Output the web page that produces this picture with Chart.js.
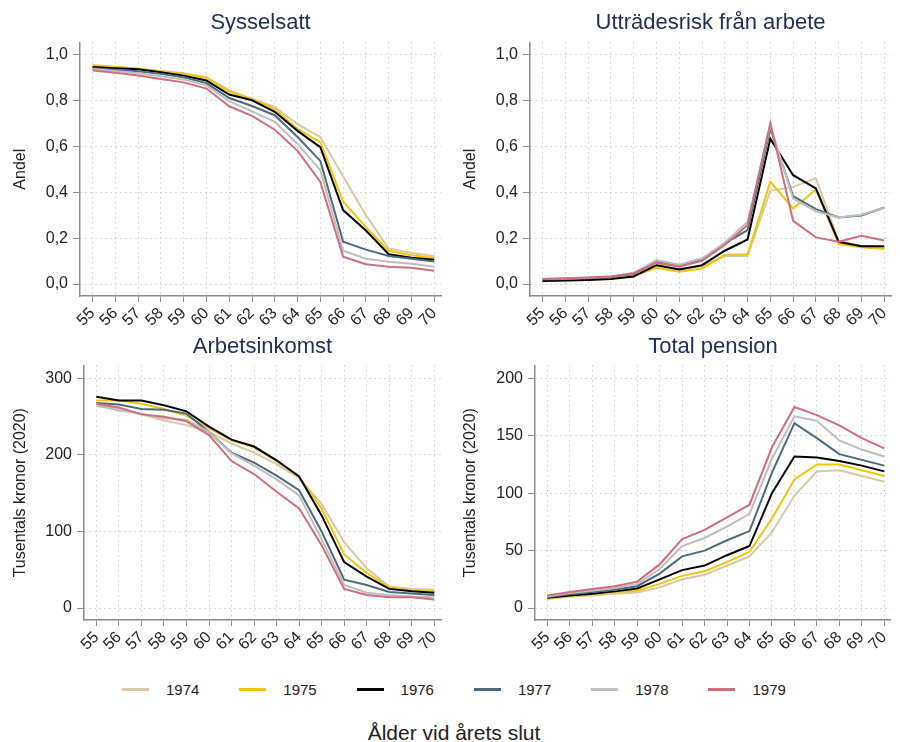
<!DOCTYPE html>
<html>
<head>
<meta charset="utf-8">
<script src="https://cdn.jsdelivr.net/npm/chart.js@4.4.1/dist/chart.umd.min.js"></script>
<style>
  body { margin: 0; background: #fff; font-family: "Liberation Sans", Arial, sans-serif; }
  #wrap { position: relative; width: 900px; height: 742px; overflow: hidden; }
  #wrap canvas { position: absolute; }
  #legend { position: absolute; left: 122px; top: 680px; height: 18px; display: flex; }
  .item { width: 117.3px; display: flex; align-items: center; font-size: 15px; color: #222; }
  .swatch { width: 27px; height: 3px; margin-right: 17px; }
  #xtitle { position: absolute; left: 4px; width: 900px; top: 721px; text-align: center; font-size: 21px; color: #222; }
</style>
</head>
<body>
<div id="wrap">
  <canvas id="c1" width="450" height="330" style="left:0;top:0"></canvas>
  <canvas id="c2" width="450" height="330" style="left:450px;top:0"></canvas>
  <canvas id="c3" width="450" height="330" style="left:0;top:330px"></canvas>
  <canvas id="c4" width="450" height="330" style="left:450px;top:330px"></canvas>
  <div id="legend"></div>
  <div id="xtitle">Ålder vid årets slut</div>
</div>
<script>
// Data
const ages = [55, 56, 57, 58, 59, 60, 61, 62, 63, 64, 65, 66, 67, 68, 69, 70];
const cohorts = ["1974", "1975", "1976", "1977", "1978", "1979"];
const cohortColors = ["#d5caa4", "#f2c40c", "#000000", "#4b6b7b", "#bebebe", "#d26e7c"];

const andelTicks = [0, 0.2, 0.4, 0.6, 0.8, 1.0];
const inkomstTicks = [0, 100, 200, 300];
const pensionTicks = [0, 50, 100, 150, 200];

// en rad per kohort (1974 ... 1979)
const sysselsatt = [
  [.952, .945, .938, .928, .918, .900, .843, .807, .771, .696, .640, .468, .300, .155, .135, .122],
  [.952, .945, .937, .925, .915, .897, .838, .805, .762, .675, .618, .360, .248, .145, .125, .113],
  [.945, .940, .935, .922, .907, .886, .825, .800, .750, .667, .596, .322, .233, .130, .115, .106],
  [.940, .933, .926, .915, .900, .875, .810, .775, .735, .640, .536, .184, .150, .122, .110, .098],
  [.936, .928, .918, .905, .890, .865, .796, .752, .706, .610, .496, .145, .110, .097, .088, .075],
  [.930, .920, .908, .893, .878, .851, .774, .732, .672, .580, .445, .119, .086, .075, .071, .058]
];

const uttradesrisk = [
  [.020, .021, .023, .028, .042, .085, .065, .078, .122, .122, .406, .423, .460, .185, .165, .160],
  [.015, .017, .020, .023, .035, .071, .054, .068, .126, .130, .445, .329, .412, .174, .160, .153],
  [.013, .015, .018, .022, .033, .082, .063, .082, .145, .194, .633, .474, .416, .184, .165, .165],
  [.020, .022, .025, .030, .045, .097, .080, .105, .177, .235, .677, .383, .326, .290, .298, .333],
  [.022, .024, .027, .033, .048, .104, .084, .112, .180, .271, .690, .372, .317, .290, .302, .333],
  [.022, .025, .028, .033, .047, .093, .075, .101, .170, .257, .701, .275, .203, .184, .210, .190]
];

const arbetsinkomst = [
  [264, 260, 253, 245, 239, 230, 215, 203, 188, 170, 136, 86, 52, 28, 25, 24],
  [271, 271, 267, 260, 251, 235, 219, 210, 192, 171, 130, 70, 46, 27, 23, 22],
  [276, 271, 271, 265, 257, 237, 220, 211, 193, 172, 121, 60, 41, 25, 22, 20],
  [268, 266, 260, 259, 254, 230, 203, 190, 173, 154, 100, 37, 30, 21, 19, 17],
  [265, 258, 254, 248, 246, 230, 202, 186, 168, 147, 90, 30, 20, 17, 15, 14],
  [267, 262, 253, 250, 244, 226, 192, 175, 152, 130, 82, 25, 17, 14, 14, 11]
];

const totalPension = [
  [8, 10, 11, 12.5, 13.5, 18, 25, 29, 37, 45, 66, 98, 119, 120, 115, 110],
  [8, 10.5, 12, 14, 15, 21, 28, 32, 40, 49, 78, 112, 125, 125, 120, 115],
  [9, 11, 12.5, 14.5, 17, 25, 33, 37, 46, 54, 100, 132, 131, 128, 124, 119],
  [9.5, 12, 14, 16, 19, 30, 45, 50, 59, 67, 118, 161, 148, 134, 129, 124],
  [10, 13, 15, 17.5, 21, 34, 54, 61, 71, 82, 130, 167, 163, 146, 138, 132],
  [11, 14, 16.5, 19, 23, 38, 60, 68, 79, 90, 140, 175, 168, 159, 148, 139]
];

Chart.defaults.font.family = "'Liberation Sans', Arial, sans-serif";
Chart.defaults.color = "#222";

const AXIS = "#8c8c8c";
const GRID = "#b4b4b4";

const fmtAndel = v => v.toFixed(1).replace(".", ",");
const fmtInt = v => String(Math.round(v));

function makePanel(id, title, yTitle, series, yTicks, yMin, yMax, fmt, box) {
  const ctx = document.getElementById(id);
  return new Chart(ctx, {
    type: "line",
    data: {
      datasets: series.map((vals, i) => ({
        label: cohorts[i],
        data: vals.map((v, j) => ({ x: ages[j], y: v })),
        borderColor: cohortColors[i],
        backgroundColor: cohortColors[i],
        borderWidth: 2,
        pointRadius: 0,
        tension: 0,
        order: series.length - i
      }))
    },
    options: {
      responsive: false,
      animation: false,
      layout: { padding: { left: 0, right: box.right, top: 0, bottom: 0 } },
      plugins: {
        legend: { display: false },
        tooltip: { enabled: false },
        title: {
          display: true,
          text: title,
          fullSize: false,
          color: "#1e2d5a",
          font: { size: 22, weight: "normal" },
          padding: { top: box.titleTop, bottom: box.titleBottom }
        }
      },
      scales: {
        x: {
          type: "linear",
          min: 54.45,
          max: 70.3,
          afterBuildTicks: s => { s.ticks = ages.map(v => ({ value: v })); },
          afterFit: s => { s.height = box.xHeight; },
          ticks: { autoSkip: false, minRotation: 45, maxRotation: 45, padding: 2, font: { size: 16 }, callback: v => String(v) },
          grid: { color: GRID, tickColor: AXIS, tickLength: 6, lineWidth: 1 },
          border: { color: AXIS, width: 1.5, dash: [1, 4] }
        },
        y: {
          min: yMin,
          max: yMax,
          afterBuildTicks: s => { s.ticks = yTicks.map(v => ({ value: v })); },
          afterFit: s => { s.width = box.left; },
          ticks: { autoSkip: false, padding: 5, font: { size: 16 }, callback: v => fmt(v) },
          grid: { color: GRID, tickColor: AXIS, tickLength: 7, lineWidth: 1 },
          border: { color: AXIS, width: 1.5, dash: [1, 4] },
          title: { display: true, text: yTitle, font: { size: 16 }, padding: { top: 11, bottom: 0 } }
        }
      }
    }
  });
}

makePanel("c1", "Sysselsatt", "Andel", sysselsatt, andelTicks, -0.052, 1.052, fmtAndel,
  { left: 80, right: 3, titleTop: 10, titleBottom: 6, xHeight: 34 });
makePanel("c2", "Utträdesrisk från arbete", "Andel", uttradesrisk, andelTicks, -0.052, 1.052, fmtAndel,
  { left: 80, right: 2, titleTop: 10, titleBottom: 6, xHeight: 34 });
makePanel("c3", "Arbetsinkomst", "Tusentals kronor (2020)", arbetsinkomst, inkomstTicks, -15.65, 317, fmtInt,
  { left: 84, right: 3, titleTop: 4, titleBottom: 5, xHeight: 40 });
makePanel("c4", "Total pension", "Tusentals kronor (2020)", totalPension, pensionTicks, -10.43, 211.3, fmtInt,
  { left: 85, right: 2, titleTop: 4, titleBottom: 5, xHeight: 40 });

// gemensam legend
const legendEl = document.getElementById("legend");
cohorts.forEach((c, i) => {
  const item = document.createElement("div");
  item.className = "item";
  const sw = document.createElement("span");
  sw.className = "swatch";
  sw.style.background = cohortColors[i];
  const txt = document.createElement("span");
  txt.textContent = c;
  item.appendChild(sw);
  item.appendChild(txt);
  legendEl.appendChild(item);
});
</script>
</body>
</html>
